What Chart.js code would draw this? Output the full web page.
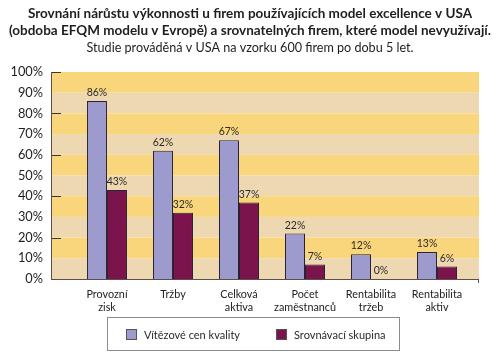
<!DOCTYPE html>
<html>
<head>
<meta charset="utf-8">
<script src="https://cdn.jsdelivr.net/npm/chart.js@4.4.1/dist/chart.umd.min.js"></script>
<style>
html,body{margin:0;padding:0;background:#fff;}
#wrap{width:500px;height:359px;position:relative;}
</style>
</head>
<body>
<div id="wrap"><canvas id="c" width="500" height="359"></canvas></div>
<script>
const categories = [['Provozní','zisk'], ['Tržby'], ['Celková','aktiva'], ['Počet','zaměstnanců'], ['Rentabilita','tržeb'], ['Rentabilita','aktiv']];
const winners = [86, 62, 67, 22, 12, 13];
const peers = [43, 32, 37, 7, 0, 6];
const seriesNames = ['Vítězové cen kvality', 'Srovnávací skupina'];
const yTicks = [0, 10, 20, 30, 40, 50, 60, 70, 80, 90, 100];
const titleLines = ['Srovnání nárůstu výkonnosti u firem používajících model excellence v USA', '(obdoba EFQM modelu v Evropě) a srovnatelných firem, které model nevyužívají.'];
const subtitleText = 'Studie prováděná v USA na vzorku 600 firem po dobu 5 let.';

const FONT = "Lato, 'Open Sans', sans-serif";
const C_LAV = '#9d9bcd';
const C_MAR = '#7b134d';

const decoPlugin = {
  id: 'deco',
  beforeDatasetsDraw(chart) {
    const {ctx, chartArea: a, scales: {y}} = chart;
    ctx.save();
    for (let i = 0; i < yTicks.length - 1; i++) {
      const top = y.getPixelForValue(yTicks[yTicks.length - 1 - i]);
      const bot = y.getPixelForValue(yTicks[yTicks.length - 2 - i]);
      ctx.fillStyle = (i % 2 === 0) ? '#f9d67b' : '#edd8b1';
      ctx.fillRect(a.left, top, a.right - a.left, bot - top);
    }
    ctx.strokeStyle = '#3f3428';
    ctx.lineWidth = 1;
    yTicks.forEach(v => {
      if (v % 20 === 0 && v > 0) {
        const py = Math.round(y.getPixelForValue(v)) + 0.5;
        ctx.beginPath(); ctx.moveTo(a.left, py); ctx.lineTo(a.left + 10, py); ctx.stroke();
      }
    });
    ctx.restore();
  },
  afterDraw(chart) {
    const {ctx, chartArea: a} = chart;
    ctx.save();
    // axis lines
    ctx.strokeStyle = '#5a5048';
    ctx.lineWidth = 1;
    ctx.beginPath();
    ctx.moveTo(a.left + 0.5, a.top); ctx.lineTo(a.left + 0.5, a.bottom + 1);
    ctx.moveTo(a.left, Math.round(a.bottom) + 0.5); ctx.lineTo(a.right, Math.round(a.bottom) + 0.5);
    ctx.moveTo(a.right - 0.5, a.bottom); ctx.lineTo(a.right - 0.5, a.bottom + 4);
    ctx.stroke();
    // value labels
    ctx.font = '10.5px ' + FONT;
    ctx.fillStyle = '#2e2a28';
    ctx.textAlign = 'center';
    ctx.textBaseline = 'bottom';
    chart.data.datasets.forEach((ds, di) => {
      const meta = chart.getDatasetMeta(di);
      meta.data.forEach((bar, i) => {
        ctx.fillText(ds.data[i].y + '%', bar.x, bar.y - 3);
      });
    });
    // legend
    ctx.strokeStyle = '#8c8c8c';
    ctx.strokeRect(107.5, 317.5, 292, 33);
    const items = [[126, 144], [276, 294]];
    ctx.font = '11px ' + FONT;
    ctx.textAlign = 'left';
    ctx.textBaseline = 'middle';
    chart.data.datasets.forEach((ds, di) => {
      const [bx, tx] = items[di];
      ctx.fillStyle = ds.backgroundColor;
      ctx.fillRect(bx, 329, 11, 11);
      ctx.strokeStyle = '#555';
      ctx.strokeRect(bx + 0.5, 329.5, 10, 10);
      ctx.fillStyle = '#2a2a2a';
      ctx.fillText(ds.label, tx, 335);
    });
    ctx.restore();
  }
};

const chart = new Chart(document.getElementById('c'), {
  type: 'bar',
  data: {
    datasets: [
      { label: seriesNames[0], data: winners.map((v, i) => ({x: i, y: v})), backgroundColor: C_LAV, borderColor: '#2a2230', borderWidth: 1 },
      { label: seriesNames[1], data: peers.map((v, i) => ({x: i, y: v})), backgroundColor: C_MAR, borderColor: '#2a2230', borderWidth: 1 }
    ]
  },
  plugins: [decoPlugin],
  options: {
    responsive: false,
    animation: false,
    devicePixelRatio: 1,
    categoryPercentage: 0.606,
    barPercentage: 1,
    layout: { padding: { left: 0, right: 0, top: 0, bottom: 40 } },
    plugins: {
      title: {
        display: true,
        text: titleLines,
        color: '#1e1e1e',
        font: { family: FONT, size: 13.5, weight: 'bold', lineHeight: 1.26 },
        padding: { top: 5.5, bottom: 0 }
      },
      subtitle: {
        display: true,
        text: subtitleText,
        color: '#1e1e1e',
        font: { family: FONT, size: 12.6, weight: 'normal', lineHeight: 1.27 },
        padding: { top: 0, bottom: 16.5 }
      },
      legend: { display: false },
      tooltip: { enabled: false }
    },
    scales: {
      x: {
        type: 'linear',
        offset: false,
        min: -0.848,
        max: 5.636,
        afterBuildTicks(scale) { scale.ticks = categories.map((c, i) => ({value: i})); },
        afterFit(scale) { scale.height = 40; },
        ticks: {
          autoSkip: false,
          maxRotation: 0,
          padding: 9.5,
          color: '#222',
          font: { family: FONT, size: 10.8, lineHeight: 1.2 },
          callback: (v) => categories[v]
        },
        grid: { display: false, drawTicks: false },
        border: { display: false }
      },
      y: {
        min: 0,
        max: 100,
        afterBuildTicks(scale) { scale.ticks = yTicks.map(v => ({value: v})); },
        afterFit(scale) { scale.width = 51; },
        ticks: {
          padding: 8,
          color: '#1e1e1e',
          font: { family: FONT, size: 12.8 },
          callback: (v) => v + '%'
        },
        grid: { display: false, drawTicks: false },
        border: { display: false }
      },
      yRight: {
        position: 'right',
        display: true,
        afterFit(scale) { scale.width = 21; },
        ticks: { display: false },
        grid: { display: false, drawTicks: false },
        border: { display: false }
      }
    }
  }
});
</script>
</body>
</html>
